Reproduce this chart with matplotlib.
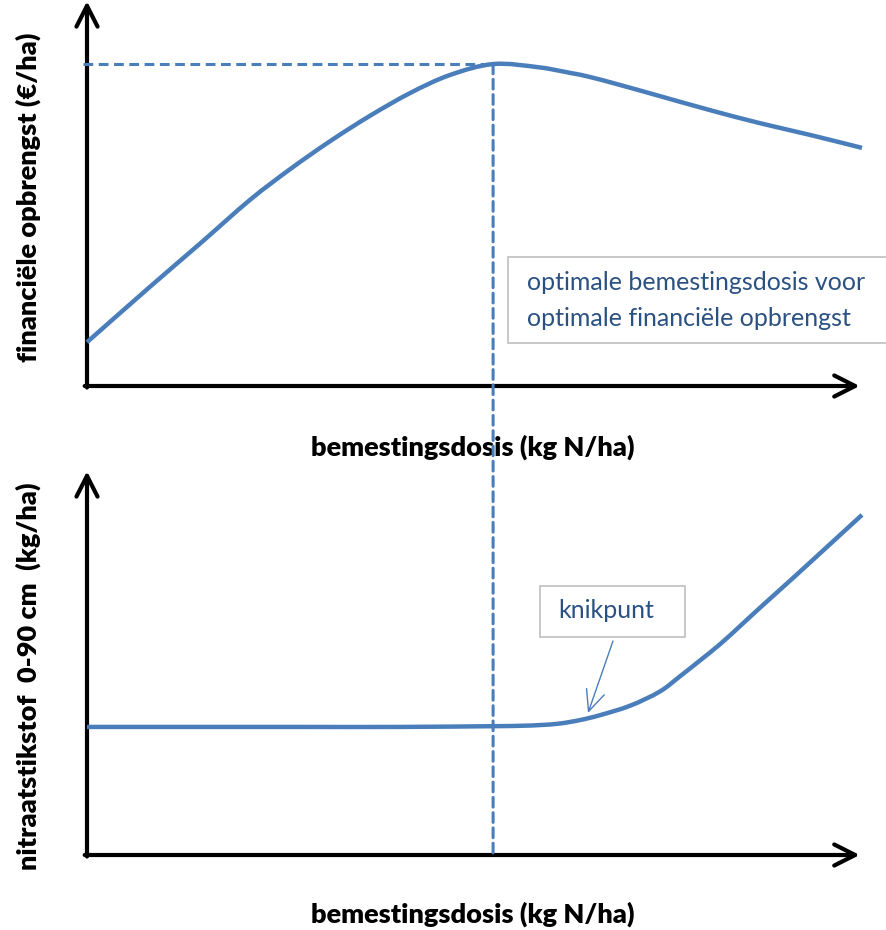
import matplotlib.pyplot as plt
import matplotlib.patches as mpatches
from matplotlib.patches import ConnectionPatch, PathPatch
from matplotlib.path import Path
import numpy as np

plt.rcParams['font.family'] = ['Lato', 'DejaVu Sans']
plt.rcParams['lines.scale_dashes'] = False

# --- data (relative units, 0-100) ---
dosis_boven = [0, 8.1, 14.6, 21.0, 26.2, 31.4, 36.5, 41.7, 46.8, 52.4, 58.1, 62.3,
               64.9, 68.8, 73.9, 80.4, 86.8, 93.3, 100]
opbrengst = [11.5, 26.0, 37.4, 48.8, 56.9, 64.3, 70.9, 76.9, 81.6, 84.5, 83.7, 82.2,
             81.1, 79.0, 76.1, 72.4, 69.0, 65.9, 62.5]

dosis_onder = [0, 14.6, 27.5, 40.4, 52.4, 55.9, 58.5, 61.0, 63.6, 66.2, 70.1, 73.9,
               76.5, 79.1, 81.7, 84.3, 86.8, 91.1, 95.5, 100]
nitraat = [33.7, 33.7, 33.7, 33.7, 33.9, 34.0, 34.2, 34.6, 35.5, 36.8, 39.3, 43.0,
           47.0, 51.2, 55.5, 60.3, 65.0, 72.9, 81.1, 89.5]

blauw = '#4a7ebb'
tekstblauw = '#2b5183'
W, H = 887, 930

fig = plt.figure(figsize=(W / 100, H / 100), dpi=100)

def fx(px):
    return px / W

def fy(py):
    return 1 - py / H

def gladde_lijn(ax, x, y, **kw):
    # smoothed line like in Excel (Catmull-Rom -> Bezier through the points)
    p = np.column_stack([x, y]).astype(float)
    p_ext = np.vstack([p[0], p, p[-1]])
    verts = [p[0]]
    codes = [Path.MOVETO]
    for i in range(1, len(p_ext) - 2):
        p0, p1, p2, p3 = p_ext[i - 1], p_ext[i], p_ext[i + 1], p_ext[i + 2]
        verts += [p1 + (p2 - p0) / 6, p2 - (p3 - p1) / 6, p2]
        codes += [Path.CURVE4] * 3
    patch = PathPatch(Path(verts, codes), fill=False, **kw)
    ax.add_patch(patch)

ax1 = fig.add_axes([fx(87), fy(386), (862 - 87) / W, (386 - 5) / H])
ax2 = fig.add_axes([fx(87), fy(855), (862 - 87) / W, (855 - 475) / H])

for ax in (ax1, ax2):
    ax.set_xlim(0, 100)
    ax.set_ylim(0, 100)
    ax.set_axis_off()
    pijl = dict(arrowstyle='->,head_length=0.75,head_width=0.38', lw=3, color='black',
                shrinkA=0, shrinkB=0, mutation_scale=20)
    ax.annotate('', xy=(0, 1.01), xytext=(0, -0.004), xycoords='axes fraction', arrowprops=pijl)
    ax.annotate('', xy=(0.997, 0), xytext=(-0.003, 0), xycoords='axes fraction', arrowprops=pijl)

# curves
gladde_lijn(ax1, dosis_boven, opbrengst, ec=blauw, lw=3.2, capstyle='butt', clip_on=False, zorder=4)
gladde_lijn(ax2, dosis_onder, nitraat, ec=blauw, lw=3.2, capstyle='butt', clip_on=False, zorder=4)

# optimum lines
i_opt = int(np.argmax(opbrengst))
x_opt, y_opt = dosis_boven[i_opt], opbrengst[i_opt]
streep = (0, (7, 4))
ax1.plot([-0.5, x_opt], [y_opt, y_opt], color=blauw, lw=2.2, ls=streep, clip_on=False, zorder=3)
con = ConnectionPatch(xyA=(x_opt, y_opt), coordsA=ax1.transData,
                      xyB=(x_opt, 0), coordsB=ax2.transData,
                      color=blauw, lw=2.2, ls=streep, zorder=10)
fig.add_artist(con)

# axis labels
fig.text(fx(473), fy(447), 'bemestingsdosis (kg N/ha)', ha='center', va='center',
         fontsize=19.5, fontweight='heavy')
fig.text(fx(473), fy(914), 'bemestingsdosis (kg N/ha)', ha='center', va='center',
         fontsize=19.5, fontweight='heavy')
fig.text(fx(28), fy(197), 'financiële opbrengst (€/ha)', ha='center', va='center',
         rotation=90, fontsize=19.5, fontweight='heavy')
fig.text(fx(28), fy(676), 'nitraatstikstof  0-90 cm  (kg/ha)', ha='center', va='center',
         rotation=90, fontsize=19.5, fontweight='heavy')

# text boxes
fig.add_artist(mpatches.Rectangle((fx(508), fy(343)), (900 - 508) / W, (343 - 257) / H,
                                  transform=fig.transFigure, fill=True, fc='white',
                                  ec='#bfbfbf', lw=1.2))
fig.text(fx(527), fy(283), 'optimale bemestingsdosis voor', ha='left', va='center',
         fontsize=18, color=tekstblauw)
fig.text(fx(527), fy(318), 'optimale financiële opbrengst', ha='left', va='center',
         fontsize=18, color=tekstblauw)

fig.add_artist(mpatches.Rectangle((fx(540), fy(637)), (685 - 540) / W, (637 - 586) / H,
                                  transform=fig.transFigure, fill=True, fc='white',
                                  ec='#bfbfbf', lw=1.2))
fig.text(fx(558), fy(611), 'knikpunt', ha='left', va='center', fontsize=18, color=tekstblauw)
fig.add_artist(mpatches.FancyArrowPatch((fx(613), fy(641)), (fx(588), fy(713)),
                                        transform=fig.transFigure,
                                        arrowstyle='->,head_length=1.0,head_width=0.45',
                                        mutation_scale=15, lw=1, color=blauw,
                                        shrinkA=0, shrinkB=0))

fig.savefig('out.png', dpi=100, facecolor='white')
